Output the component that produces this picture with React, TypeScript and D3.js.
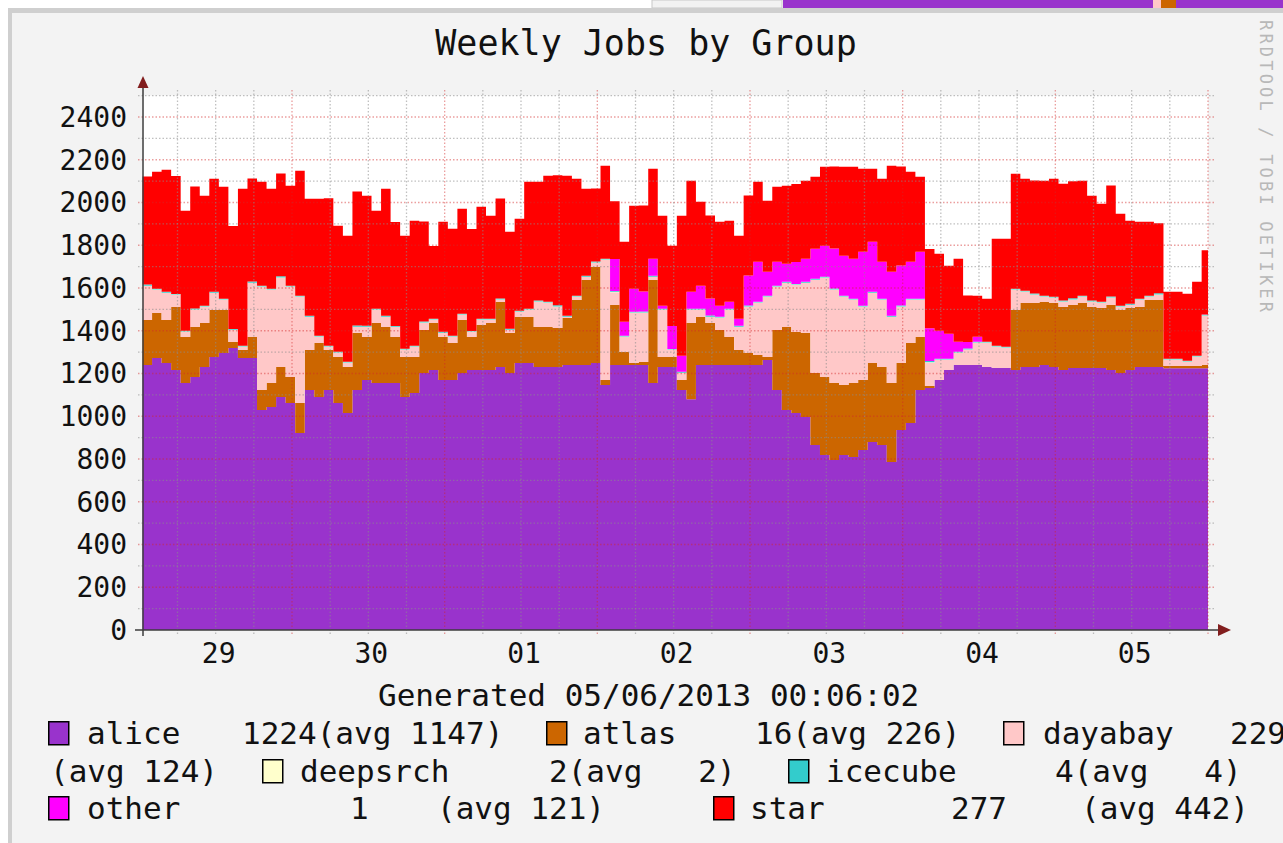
import { useEffect, useRef } from 'react';
import * as d3 from 'd3';

// RRD groups, in stacking order (bottom to top)
const groups = ['alice', 'atlas', 'dayabay', 'deepsrch', 'icecube', 'other', 'star'];
const groupColors = ['#9933CC', '#CC6600', '#FFC8C8', '#FFFFCC', '#33CCCC', '#FF00FF', '#FF0000'];

// one sample every 90 minutes, first one at 29 Apr 2013 00:30 UTC
const sampleStart = Date.UTC(2013, 3, 29, 0, 30);
const sampleStepMs = 90 * 60 * 1000;

const alice = [
  1240, 1272, 1249, 1216, 1155, 1184, 1230, 1277, 1296, 1319,
  1272, 1272, 1029, 1043, 1090, 1062, 922, 1123, 1090, 1123,
  1062, 1015, 1123, 1170, 1155, 1155, 1155, 1090, 1109, 1202,
  1216, 1170, 1170, 1202, 1216, 1216, 1216, 1230, 1202, 1249,
  1249, 1230, 1230, 1230, 1240, 1240, 1240, 1249, 1146, 1240,
  1240, 1240, 1240, 1155, 1230, 1230, 1123, 1080, 1240, 1240,
  1240, 1240, 1240, 1240, 1240, 1263, 1123, 1029, 1015, 996,
  865, 819, 795, 819, 809, 842, 879, 865, 786, 936,
  968, 1123, 1132, 1170, 1216, 1240, 1240, 1240, 1230, 1226,
  1226, 1216, 1230, 1230, 1240, 1230, 1216, 1226, 1226, 1226,
  1226, 1216, 1202, 1216, 1230, 1230, 1230, 1225, 1225, 1225,
  1225, 1224
];
const atlas = [
  210, 211, 201, 295, 216, 233, 206, 220, 201, 28,
  38, 99, 94, 112, 140, 122, 140, 187, 253, 187,
  215, 215, 266, 201, 281, 262, 216, 187, 168, 201,
  220, 201, 173, 248, 155, 211, 220, 305, 187, 215,
  215, 187, 187, 183, 220, 304, 397, 449, 24, 280,
  60, 9, 14, 482, 47, 47, 47, 356, 224, 196,
  163, 131, 70, 56, 46, 14, 280, 388, 379, 393,
  337, 365, 360, 327, 346, 328, 370, 365, 369, 313,
  375, 248, 10, 0, 0, 0, 0, 0, 0, 0,
  0, 281, 300, 300, 295, 300, 295, 294, 304, 285,
  280, 304, 295, 290, 281, 314, 314, 10, 10, 10,
  10, 16
];
const dayabay = [
  159, 108, 126, 56, 23, 80, 75, 79, 47, 56,
  14, 252, 482, 436, 417, 421, 496, 154, 28, 14,
  19, 19, 28, 46, 61, 47, 46, 33, 47, 33,
  14, 18, 28, 24, 23, 23, 14, 9, 14, 24,
  33, 118, 113, 98, 4, 14, 14, 19, 561, 60,
  71, 234, 229, 14, 220, 33, 32, 61, 33, 28,
  57, 126, 107, 215, 244, 281, 202, 206, 220, 234,
  435, 463, 436, 412, 389, 341, 327, 314, 309, 262,
  201, 173, 108, 93, 47, 56, 70, 103, 113, 98,
  93, 94, 51, 37, 23, 23, 24, 24, 28, 24,
  24, 33, 14, 14, 33, 14, 23, 28, 28, 19,
  42, 229
];
const deepsrch = [
  2, 2, 2, 2, 2, 2, 2, 2, 2, 2,
  2, 2, 2, 2, 2, 2, 2, 2, 2, 2,
  2, 2, 2, 2, 2, 2, 2, 2, 2, 2,
  2, 2, 2, 2, 2, 2, 2, 2, 2, 2,
  2, 2, 2, 2, 2, 2, 2, 2, 2, 2,
  2, 2, 2, 2, 2, 2, 2, 2, 2, 2,
  2, 2, 2, 2, 2, 2, 2, 2, 2, 2,
  2, 2, 2, 2, 2, 2, 2, 2, 2, 2,
  2, 2, 2, 2, 2, 2, 2, 2, 2, 2,
  2, 2, 2, 2, 2, 2, 2, 2, 2, 2,
  2, 2, 2, 2, 2, 2, 2, 2, 2, 2,
  2, 2
];
const icecube = [
  5, 4, 4, 3, 4, 5, 4, 4, 4, 3,
  4, 5, 4, 4, 6, 4, 4, 4, 3, 4,
  4, 4, 5, 4, 4, 4, 3, 4, 4, 5,
  4, 4, 4, 4, 3, 4, 4, 5, 4, 4,
  4, 4, 4, 6, 4, 4, 4, 5, 4, 4,
  4, 4, 5, 4, 4, 3, 4, 4, 4, 5,
  4, 4, 4, 5, 4, 4, 4, 4, 3, 4,
  4, 4, 5, 4, 4, 4, 4, 4, 4, 5,
  4, 4, 6, 4, 4, 4, 5, 4, 4, 4,
  4, 4, 4, 5, 4, 4, 4, 6, 4, 4,
  4, 5, 4, 4, 4, 4, 6, 4, 4, 4,
  4, 4
];
const other = [
  0, 0, 0, 0, 0, 0, 0, 0, 0, 0,
  0, 0, 0, 0, 0, 0, 0, 0, 0, 0,
  0, 0, 0, 0, 0, 0, 0, 0, 0, 0,
  0, 0, 0, 0, 0, 0, 0, 0, 0, 0,
  0, 0, 0, 0, 0, 0, 0, 0, 0, 150,
  65, 108, 93, 80, 14, 107, 75, 79, 108, 80,
  51, 33, 33, 140, 187, 112, 112, 84, 103, 108,
  141, 145, 187, 187, 187, 253, 234, 173, 206, 187,
  173, 220, 154, 131, 117, 47, 30, 23, 0, 0,
  0, 0, 0, 0, 0, 0, 0, 0, 0, 0,
  0, 0, 0, 0, 0, 0, 0, 0, 0, 0,
  0, 1
];
const star = [
  505, 547, 571, 552, 561, 571, 515, 529, 524, 482,
  734, 482, 486, 467, 481, 467, 585, 548, 641, 690,
  589, 589, 627, 609, 458, 594, 487, 528, 585, 468,
  340, 515, 500, 491, 477, 524, 482, 468, 454, 430,
  594, 556, 589, 608, 655, 547, 407, 341, 435, 270,
  374, 388, 403, 421, 421, 375, 655, 520, 392, 388,
  393, 379, 388, 375, 374, 332, 351, 365, 365, 365,
  336, 369, 383, 416, 430, 388, 342, 388, 496, 463,
  421, 350, 370, 360, 318, 388, 218, 192, 201, 500,
  505, 537, 524, 529, 538, 552, 547, 547, 538, 491,
  458, 519, 430, 389, 360, 346, 328, 313, 313, 313,
  346, 300
];

const seriesValues = [alice, atlas, dayabay, deepsrch, icecube, other, star];

// legend figures: current value and weekly average
const legendNow = ['1224', '16', '229', '2', '4', '1', '277'];
const legendAvg = ['1147', '226', '124', '2', '4', '121', '442'];

const dayLabels = ['29', '30', '01', '02', '03', '04', '05'];
const yTickValues = [0, 200, 400, 600, 800, 1000, 1200, 1400, 1600, 1800, 2000, 2200, 2400];
const title = 'Weekly Jobs by Group';
const footer = 'Generated 05/06/2013 00:06:02';
const watermark = 'RRDTOOL / TOBI OETIKER';

const MONO = "'DejaVu Sans Mono', monospace";
const NBSP = '\u00a0';

type Row = { time: number } & Record<string, number>;

export default function App() {
  const svgRef = useRef<SVGSVGElement | null>(null);

  useEffect(() => {
    if (!svgRef.current) return;
    const svg = d3.select(svgRef.current);
    svg.selectAll('*').remove();

    const left = 142;
    const right = 1208;
    const bottom = 630;
    const top = 95.6;

    // midnight 30 Apr sits on the first red grid line, midnight 6 May on the right edge
    const x = d3
      .scaleUtc()
      .domain([Date.UTC(2013, 3, 30), Date.UTC(2013, 4, 6)])
      .range([292, right]);
    const y = d3.scaleLinear().domain([0, 2500]).range([bottom, top]);

    const rows: Row[] = alice.map((_, i) => {
      const row = { time: sampleStart + i * sampleStepMs } as Row;
      groups.forEach((g, k) => (row[g] = seriesValues[k][i]));
      return row;
    });
    const last = { ...rows[rows.length - 1], time: sampleStart + rows.length * sampleStepMs };
    rows.push(last);

    // page background, neighbour image strip and rrd shading
    svg.append('rect').attr('width', 1283).attr('height', 843).attr('fill', '#ffffff');
    svg.append('rect').attr('x', 652).attr('y', 0).attr('width', 130).attr('height', 8)
      .attr('fill', '#f2f2f2').attr('stroke', '#c8c8c8');
    svg.append('rect').attr('x', 783).attr('y', 0).attr('width', 500).attr('height', 8).attr('fill', '#9933CC');
    svg.append('rect').attr('x', 1153).attr('y', 0).attr('width', 8).attr('height', 8).attr('fill', '#FFC8C8');
    svg.append('rect').attr('x', 1161).attr('y', 0).attr('width', 15).attr('height', 8).attr('fill', '#CC6600');
    svg.append('rect').attr('x', 8).attr('y', 8).attr('width', 1275).attr('height', 835).attr('fill', '#cfcfcf');
    svg.append('rect').attr('x', 12).attr('y', 13).attr('width', 1271).attr('height', 830).attr('fill', '#f3f3f3');

    // canvas
    svg.append('rect').attr('x', left).attr('y', top).attr('width', right - left).attr('height', bottom - top)
      .attr('fill', '#ffffff');

    svg.append('clipPath').attr('id', 'plot-clip')
      .append('rect').attr('x', left).attr('y', top).attr('width', right - left).attr('height', bottom - top);

    const stacked = d3.stack<Row>().keys(groups)(rows);
    const area = d3
      .area<d3.SeriesPoint<Row>>()
      .curve(d3.curveStepAfter)
      .x(d => x(d.data.time))
      .y0(d => y(d[0]))
      .y1(d => y(d[1]));

    svg.append('g').attr('clip-path', 'url(#plot-clip)')
      .selectAll('path')
      .data(stacked)
      .join('path')
      .attr('fill', (_, i) => groupColors[i])
      .attr('d', d => area(d) ?? '');

    // grid: minor every 100 / 6h, major every 200 / midnight
    const grid = svg.append('g');
    const minorColor = 'rgba(140,140,140,0.55)';
    const majorColor = 'rgba(210,40,40,0.45)';
    d3.range(100, 2501, 100).forEach(v => {
      const major = v % 200 === 0;
      grid.append('line')
        .attr('x1', 138).attr('x2', 1215)
        .attr('y1', y(v)).attr('y2', y(v))
        .attr('stroke', major ? majorColor : minorColor)
        .attr('stroke-width', 1.3)
        .attr('stroke-dasharray', '1.5,2');
    });
    const gridTimes = d3.utcHour.every(6)!.range(new Date(Date.UTC(2013, 3, 29, 6)), new Date(Date.UTC(2013, 4, 6, 1)));
    gridTimes.forEach(t => {
      const major = t.getUTCHours() === 0;
      grid.append('line')
        .attr('x1', x(t)).attr('x2', x(t))
        .attr('y1', 90).attr('y2', 636)
        .attr('stroke', major ? majorColor : minorColor)
        .attr('stroke-width', 1.3)
        .attr('stroke-dasharray', '1.5,2');
    });

    // axes with arrows
    const axisColor = '#3c3c3c';
    svg.append('line').attr('x1', 135).attr('x2', 1220).attr('y1', bottom).attr('y2', bottom)
      .attr('stroke', axisColor).attr('stroke-width', 1.5);
    svg.append('line').attr('x1', 143).attr('x2', 143).attr('y1', 636).attr('y2', 86)
      .attr('stroke', axisColor).attr('stroke-width', 1.5);
    svg.append('path').attr('d', 'M143,76 L137.5,88 L148.5,88 Z').attr('fill', '#821e1e');
    svg.append('path').attr('d', 'M1231,630 L1218,624 L1218,636 Z').attr('fill', '#821e1e');

    // y tick labels
    svg.append('g')
      .selectAll('text')
      .data(yTickValues)
      .join('text')
      .attr('x', 127)
      .attr('y', d => y(d) + 10)
      .attr('text-anchor', 'end')
      .attr('font-family', MONO)
      .attr('font-size', 28)
      .attr('fill', '#111')
      .text(d => String(d));

    // day labels centred on noon
    svg.append('g')
      .selectAll('text')
      .data(dayLabels)
      .join('text')
      .attr('x', (_, i) => x(Date.UTC(2013, 3, 29 + i, 12)) + 3)
      .attr('y', 663)
      .attr('text-anchor', 'middle')
      .attr('font-family', MONO)
      .attr('font-size', 28)
      .attr('fill', '#111')
      .text(d => d);

    svg.append('text')
      .attr('x', 646).attr('y', 55)
      .attr('text-anchor', 'middle')
      .attr('font-family', MONO).attr('font-size', 35)
      .attr('fill', '#111')
      .text(title);

    svg.append('text')
      .attr('transform', 'translate(1260,20) rotate(90)')
      .attr('font-family', MONO).attr('font-size', 17)
      .attr('textLength', 292).attr('lengthAdjust', 'spacing')
      .attr('fill', '#b8b8b8')
      .text(watermark);

    svg.append('text')
      .attr('x', 378).attr('y', 706)
      .attr('font-family', MONO).attr('font-size', 31)
      .attr('fill', '#111')
      .text(footer.replace(/ /g, NBSP));

    // legend
    const rowBase = [744, 782, 819];
    const pad3 = (s: string) => s.padStart(3, NBSP);
    const legendLayout = [
      { row: 0, swatchX: 48, nameX: 89, pieces: [{ x: 244, row: 0, kind: 'both' }] },
      { row: 0, swatchX: 546, nameX: 585, pieces: [{ x: 757, row: 0, kind: 'both' }] },
      { row: 0, swatchX: 1003, nameX: 1045, pieces: [{ x: 1232, row: 0, kind: 'now' }, { x: 52, row: 1, kind: 'avg' }] },
      { row: 1, swatchX: 262, nameX: 302, pieces: [{ x: 551, row: 1, kind: 'both' }] },
      { row: 1, swatchX: 788, nameX: 828, pieces: [{ x: 1057, row: 1, kind: 'both' }] },
      { row: 2, swatchX: 48, nameX: 89, pieces: [{ x: 352, row: 2, kind: 'now' }, { x: 439, row: 2, kind: 'avg' }] },
      { row: 2, swatchX: 713, nameX: 752, pieces: [{ x: 953, row: 2, kind: 'now' }, { x: 1083, row: 2, kind: 'avg' }] }
    ];
    const legend = svg.append('g')
      .attr('font-family', MONO).attr('font-size', 31).attr('fill', '#111');
    legendLayout.forEach((item, k) => {
      const base = rowBase[item.row];
      legend.append('rect')
        .attr('x', item.swatchX + 0.75).attr('y', base - 22.25)
        .attr('width', 20).attr('height', 23)
        .attr('fill', groupColors[k]).attr('stroke', '#000').attr('stroke-width', 1.5);
      legend.append('text').attr('x', item.nameX - 2).attr('y', base).text(groups[k]);
      item.pieces.forEach(p => {
        const avgText = `(avg${NBSP}${pad3(legendAvg[k])})`;
        const text = p.kind === 'both' ? `${legendNow[k]}${avgText}` : p.kind === 'now' ? legendNow[k] : avgText;
        legend.append('text').attr('x', p.x - 2).attr('y', rowBase[p.row]).text(text);
      });
    });
  }, []);

  return (
    <svg
      ref={svgRef}
      width={1283}
      height={843}
      style={{ position: 'absolute', left: 0, top: 0, display: 'block' }}
    />
  );
}
